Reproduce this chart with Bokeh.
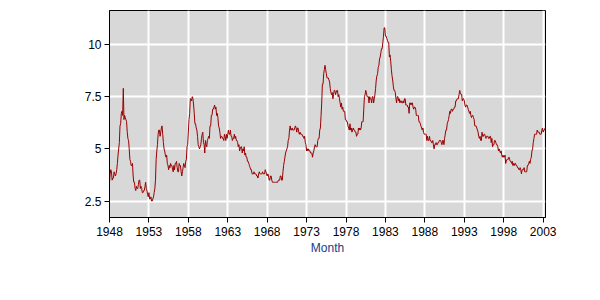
from bokeh.plotting import figure
from bokeh.models import FixedTicker, Range1d, ColumnDataSource
from bokeh.embed import file_html
from bokeh.resources import INLINE

start_year = 1948
rates = {
    1948: [3.4, 3.8, 4.0, 3.9, 3.5, 3.6, 3.6, 3.9, 3.8, 3.7, 3.8, 4.0],
    1949: [4.3, 4.7, 5.0, 5.3, 6.1, 6.2, 6.7, 6.8, 6.6, 7.9, 6.4, 6.6],
    1950: [6.5, 6.4, 6.3, 5.8, 5.5, 5.4, 5.0, 4.5, 4.4, 4.2, 4.2, 4.3],
    1951: [3.7, 3.4, 3.4, 3.1, 3.0, 3.2, 3.1, 3.1, 3.3, 3.5, 3.5, 3.1],
    1952: [3.2, 3.1, 2.9, 2.9, 3.0, 3.0, 3.2, 3.4, 3.1, 3.0, 2.8, 2.7],
    1953: [2.9, 2.6, 2.6, 2.7, 2.5, 2.5, 2.6, 2.7, 2.9, 3.1, 3.5, 4.5],
    1954: [4.9, 5.2, 5.7, 5.9, 5.9, 5.6, 5.8, 6.0, 6.1, 5.7, 5.3, 5.0],
    1955: [4.9, 4.7, 4.6, 4.7, 4.3, 4.2, 4.0, 4.2, 4.1, 4.3, 4.2, 4.2],
    1956: [4.0, 3.9, 4.2, 4.0, 4.3, 4.3, 4.4, 4.1, 3.9, 3.9, 4.3, 4.2],
    1957: [4.2, 3.9, 3.7, 3.9, 4.1, 4.3, 4.2, 4.1, 4.4, 4.5, 5.1, 5.2],
    1958: [5.8, 6.4, 6.7, 7.4, 7.4, 7.3, 7.5, 7.4, 7.1, 6.7, 6.2, 6.2],
    1959: [6.0, 5.9, 5.6, 5.2, 5.1, 5.0, 5.1, 5.2, 5.5, 5.7, 5.8, 5.3],
    1960: [5.2, 4.8, 5.4, 5.2, 5.1, 5.4, 5.5, 5.6, 5.5, 6.1, 6.1, 6.6],
    1961: [6.6, 6.9, 6.9, 7.0, 7.1, 6.9, 7.0, 6.6, 6.7, 6.5, 6.1, 6.0],
    1962: [5.8, 5.5, 5.6, 5.6, 5.5, 5.5, 5.4, 5.7, 5.6, 5.4, 5.7, 5.5],
    1963: [5.7, 5.9, 5.7, 5.7, 5.9, 5.6, 5.6, 5.4, 5.5, 5.5, 5.7, 5.5],
    1964: [5.6, 5.4, 5.4, 5.3, 5.1, 5.2, 4.9, 5.0, 5.1, 5.1, 4.8, 5.0],
    1965: [4.9, 5.1, 4.7, 4.8, 4.6, 4.6, 4.4, 4.4, 4.3, 4.2, 4.1, 4.0],
    1966: [4.0, 3.8, 3.8, 3.8, 3.9, 3.8, 3.8, 3.8, 3.7, 3.7, 3.6, 3.8],
    1967: [3.9, 3.8, 3.8, 3.8, 3.8, 3.9, 3.8, 3.8, 3.8, 4.0, 3.9, 3.8],
    1968: [3.7, 3.8, 3.7, 3.5, 3.5, 3.7, 3.7, 3.5, 3.4, 3.4, 3.4, 3.4],
    1969: [3.4, 3.4, 3.4, 3.4, 3.4, 3.5, 3.5, 3.5, 3.7, 3.7, 3.5, 3.5],
    1970: [3.9, 4.2, 4.4, 4.6, 4.8, 4.9, 5.0, 5.1, 5.4, 5.5, 5.9, 6.1],
    1971: [5.9, 5.9, 6.0, 5.9, 5.9, 5.9, 6.0, 6.1, 6.0, 5.8, 6.0, 6.0],
    1972: [5.8, 5.7, 5.8, 5.7, 5.7, 5.7, 5.6, 5.6, 5.5, 5.6, 5.3, 5.2],
    1973: [4.9, 5.0, 4.9, 5.0, 4.9, 4.9, 4.8, 4.8, 4.8, 4.6, 4.8, 4.9],
    1974: [5.1, 5.2, 5.1, 5.1, 5.1, 5.4, 5.5, 5.5, 5.9, 6.0, 6.6, 7.2],
    1975: [8.1, 8.1, 8.6, 8.8, 9.0, 8.8, 8.6, 8.4, 8.4, 8.4, 8.3, 8.2],
    1976: [7.9, 7.7, 7.6, 7.7, 7.4, 7.6, 7.8, 7.8, 7.6, 7.7, 7.8, 7.8],
    1977: [7.5, 7.6, 7.4, 7.2, 7.0, 7.2, 6.9, 7.0, 6.8, 6.8, 6.8, 6.4],
    1978: [6.4, 6.3, 6.3, 6.1, 6.0, 5.9, 6.2, 5.9, 6.0, 5.8, 5.9, 6.0],
    1979: [5.9, 5.9, 5.8, 5.8, 5.6, 5.7, 5.7, 6.0, 5.9, 6.0, 5.9, 6.0],
    1980: [6.3, 6.3, 6.3, 6.9, 7.5, 7.6, 7.8, 7.7, 7.5, 7.5, 7.5, 7.2],
    1981: [7.5, 7.4, 7.4, 7.2, 7.5, 7.5, 7.2, 7.4, 7.6, 7.9, 8.3, 8.5],
    1982: [8.6, 8.9, 9.0, 9.3, 9.4, 9.6, 9.8, 9.8, 10.1, 10.4, 10.8, 10.8],
    1983: [10.4, 10.4, 10.3, 10.2, 10.1, 10.1, 9.4, 9.5, 9.2, 8.8, 8.5, 8.3],
    1984: [8.0, 7.8, 7.8, 7.7, 7.4, 7.2, 7.5, 7.5, 7.3, 7.4, 7.2, 7.3],
    1985: [7.3, 7.2, 7.2, 7.3, 7.2, 7.4, 7.4, 7.1, 7.1, 7.1, 7.0, 7.0],
    1986: [6.7, 7.2, 7.2, 7.1, 7.2, 7.2, 7.0, 6.9, 7.0, 7.0, 6.9, 6.6],
    1987: [6.6, 6.6, 6.6, 6.3, 6.3, 6.2, 6.1, 6.0, 5.9, 6.0, 5.8, 5.7],
    1988: [5.7, 5.7, 5.7, 5.4, 5.6, 5.4, 5.4, 5.6, 5.4, 5.4, 5.3, 5.3],
    1989: [5.4, 5.2, 5.0, 5.2, 5.2, 5.3, 5.2, 5.2, 5.3, 5.3, 5.4, 5.4],
    1990: [5.4, 5.3, 5.2, 5.4, 5.4, 5.2, 5.5, 5.7, 5.9, 5.9, 6.2, 6.3],
    1991: [6.4, 6.6, 6.8, 6.7, 6.9, 6.9, 6.8, 6.9, 6.9, 7.0, 7.0, 7.3],
    1992: [7.3, 7.4, 7.4, 7.4, 7.6, 7.8, 7.7, 7.6, 7.6, 7.3, 7.4, 7.4],
    1993: [7.3, 7.1, 7.0, 7.1, 7.1, 7.0, 6.9, 6.8, 6.7, 6.8, 6.6, 6.5],
    1994: [6.6, 6.6, 6.5, 6.4, 6.1, 6.1, 6.1, 6.0, 5.9, 5.8, 5.6, 5.5],
    1995: [5.6, 5.4, 5.4, 5.8, 5.6, 5.6, 5.7, 5.7, 5.6, 5.5, 5.6, 5.6],
    1996: [5.6, 5.5, 5.5, 5.6, 5.6, 5.3, 5.5, 5.1, 5.2, 5.2, 5.4, 5.4],
    1997: [5.3, 5.2, 5.2, 5.1, 4.9, 5.0, 4.9, 4.8, 4.9, 4.7, 4.6, 4.7],
    1998: [4.6, 4.6, 4.7, 4.3, 4.4, 4.5, 4.5, 4.5, 4.6, 4.5, 4.4, 4.4],
    1999: [4.3, 4.4, 4.2, 4.3, 4.2, 4.3, 4.3, 4.2, 4.2, 4.1, 4.1, 4.0],
    2000: [4.0, 4.1, 4.0, 3.8, 4.0, 4.0, 4.0, 4.1, 3.9, 3.9, 3.9, 3.9],
    2001: [4.2, 4.2, 4.3, 4.4, 4.3, 4.5, 4.6, 4.9, 5.0, 5.3, 5.5, 5.7],
    2002: [5.7, 5.7, 5.7, 5.9, 5.8, 5.8, 5.8, 5.7, 5.7, 5.7, 5.9, 6.0],
    2003: [5.8, 5.9, 5.9, 6.0],
}
x_ticks = [1948, 1953, 1958, 1963, 1968, 1973, 1978, 1983, 1988, 1993, 1998, 2003]
y_ticks = [2.5, 5, 7.5, 10]
x_label = "Month"

xs, ys = [], []
for yr in sorted(rates):
    for m, v in enumerate(rates[yr]):
        xs.append(yr + m / 12.0)
        ys.append(v)
src = ColumnDataSource(dict(x=xs, y=ys))

p = figure(width=600, height=300, output_backend="svg", toolbar_location=None,
           x_range=Range1d(1948.0, xs[-1] + 0.05), y_range=Range1d(1.71, 11.63),
           min_border_left=109, min_border_right=55, min_border_top=10, min_border_bottom=83)
p.background_fill_color = "#D8D8D8"
p.border_fill_color = "white"
p.outline_line_color = "black"
p.outline_line_width = 1

p.line("x", "y", source=src, line_color="#990000", line_width=1)

for ax in (p.xaxis[0], p.yaxis[0]):
    ax.axis_line_color = "black"
    ax.major_tick_line_color = "black"
    ax.minor_tick_line_color = None
    ax.major_tick_out = 5
    ax.major_tick_in = 0
    ax.major_label_text_font = "Liberation Sans"
    ax.major_label_text_font_size = "12px"
    ax.major_label_text_color = "black"

p.xaxis.ticker = FixedTicker(ticks=x_ticks)
p.yaxis.ticker = FixedTicker(ticks=y_ticks)
p.yaxis.major_label_overrides = {2.5: "2.5", 5: "5", 7.5: "7.5", 10: "10"}
p.xaxis.major_label_standoff = 4
p.yaxis.major_label_standoff = 3
p.xaxis.axis_label = x_label
p.xaxis.axis_label_text_font = "Liberation Sans"
p.xaxis.axis_label_text_font_style = "normal"
p.xaxis.axis_label_text_font_size = "12px"
p.xaxis.axis_label_text_color = "#1A3A8A"
p.xaxis.axis_label_standoff = 2

p.xgrid.ticker = FixedTicker(ticks=x_ticks)
p.ygrid.ticker = FixedTicker(ticks=y_ticks)
p.grid.grid_line_color = "white"
p.grid.grid_line_width = 2

open("out.html", "w").write(file_html(p, INLINE))
